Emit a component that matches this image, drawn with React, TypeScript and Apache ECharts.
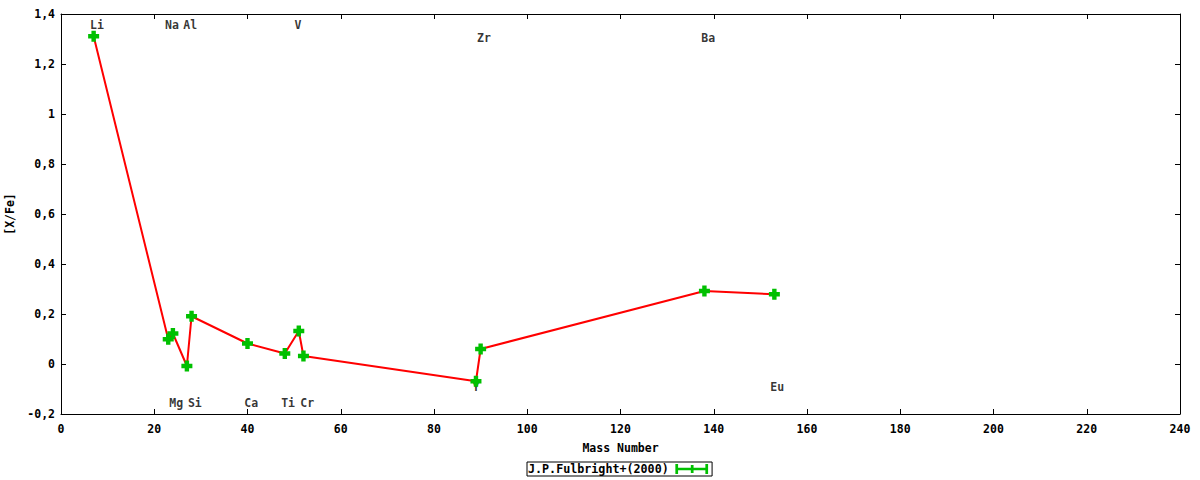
import React, { useEffect, useRef } from "react";
import * as echarts from "echarts";

const seriesName = "J.P.Fulbright+(2000)";
const masses = [7, 23, 24, 27, 28, 40, 48, 51, 52, 89, 90, 138, 153];
const xfe = [1.311, 0.099, 0.122, -0.008, 0.191, 0.082, 0.042, 0.132, 0.032, -0.069, 0.06, 0.292, 0.279];

const labelNames = ["Li", "Na", "Al", "V", "Zr", "Ba", "Mg", "Si", "Ca", "Ti", "Cr", "Y", "Eu"];
const labelX = [7.7, 23.8, 27.7, 50.8, 90.7, 138.8, 24.7, 28.7, 40.8, 48.7, 52.8, 89, 153.6];
const labelY = [1.355, 1.355, 1.355, 1.355, 1.303, 1.303, -0.157, -0.157, -0.157, -0.157, -0.157, -0.09, -0.09];

const xMin = 0, xMax = 240, xStep = 20;
const yMin = -0.2, yMax = 1.4, yStep = 0.2;

const FONT = "DejaVu Sans Mono";

export default function App() {
  const ref = useRef<HTMLDivElement>(null);
  useEffect(() => {
    if (!ref.current) return;
    const chart = echarts.init(ref.current, undefined, { renderer: "svg" });
    const txt = { fontFamily: FONT, fontSize: 11.5, fontWeight: "bold" as const, color: "#000" };
    const axisLine = { show: true, onZero: false, lineStyle: { color: "#000", width: 1 } };
    const tick = { show: true, inside: true, length: 5, lineStyle: { color: "#000" } };
    const yFmt = (v: number) => String(Math.round(v * 10) / 10).replace(".", ",");
    chart.setOption({
      animation: false,
      backgroundColor: "#fff",
      grid: { left: 61, right: 20, top: 14, bottom: 66, containLabel: false, outerBoundsMode: "none" },
      legend: {
        data: [seriesName],
        bottom: 4,
        left: 527,
        borderColor: "#000",
        borderWidth: 1,
        padding: [1, 4, 1, 1],
        itemGap: 6,
        align: "right",
        itemWidth: 36,
        itemHeight: 10,
        icon: "path://M0,4H36V7H0Z M0,0H3V11H0Z M33,0H36V11H33Z M17,1H20V10H17Z",
        textStyle: { ...txt, fontSize: 11.7, padding: [0, 0, 0, 0] },
      },
      xAxis: [
        {
          type: "value", min: xMin, max: xMax, interval: xStep,
          name: "Mass Number", nameLocation: "middle", nameGap: 28, nameTextStyle: txt,
          axisLine, axisTick: tick, axisLabel: { ...txt, margin: 9 }, splitLine: { show: false },
        },
        {
          type: "value", min: xMin, max: xMax, interval: xStep, position: "top",
          axisLine, axisTick: tick, axisLabel: { show: false }, splitLine: { show: false },
        },
      ],
      yAxis: [
        {
          type: "value", min: yMin, max: yMax, interval: yStep,
          name: "[X/Fe]", nameLocation: "middle", nameGap: 44, nameRotate: 90, nameTextStyle: txt,
          axisLine, axisTick: tick, axisLabel: { ...txt, margin: 6, formatter: yFmt }, splitLine: { show: false },
        },
        {
          type: "value", min: yMin, max: yMax, interval: yStep, position: "right",
          axisLine, axisTick: tick, axisLabel: { show: false }, splitLine: { show: false },
        },
      ],
      series: [
        {
          name: seriesName,
          type: "line",
          data: masses.map((m, i) => [m, xfe[i]]),
          symbol: "path://M3,0H7V3H10V7H7V10H3V7H0V3H3Z",
          symbolSize: 11,
          showSymbol: true,
          itemStyle: { color: "#00c000" },
          lineStyle: { color: "#ff0000", width: 2 },
          z: 3,
        },
        {
          name: "labels",
          type: "scatter",
          data: labelNames.map((n, i) => ({ name: n, value: [labelX[i], labelY[i]] })),
          symbol: "circle",
          symbolSize: 1,
          itemStyle: { color: "rgba(0,0,0,0)" },
          label: { show: true, position: "inside", formatter: "{b}", ...txt },
          labelLayout: { hideOverlap: false },
          z: 2,
          silent: true,
        },
      ],
    });
    return () => chart.dispose();
  }, []);
  return <div ref={ref} style={{ width: 1200, height: 480, position: "absolute", left: 0, top: 0 }} />;
}
